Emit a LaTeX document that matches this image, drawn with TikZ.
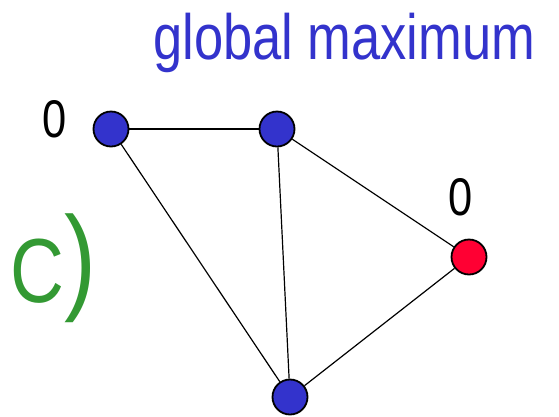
\documentclass[tikz,border=0pt]{standalone}
\usepackage{fontspec}
\setmainfont{Liberation Sans}[FakeStretch=0.82]
\definecolor{nodeblue}{RGB}{51,51,204}
\definecolor{nodered}{RGB}{255,0,51}
\definecolor{labgreen}{RGB}{51,153,51}
\begin{document}
\begin{tikzpicture}[x=1pt,y=-1pt,
  vtx/.style={circle,draw=black,line width=1.8pt,minimum size=35pt,inner sep=0pt},
  edge/.style={draw=black,line width=1.2pt},
  numlab/.style={anchor=base,inner sep=0pt,font=\fontsize{53}{53}\selectfont}]
\useasboundingbox (0,0) rectangle (559,416);
\node[vtx,fill=nodeblue] (a) at (111,129) {};
\node[vtx,fill=nodeblue] (b) at (277,129) {};
\node[vtx,fill=nodered] (r) at (469,257) {};
\node[vtx,fill=nodeblue] (d) at (290,397) {};
\draw[edge] (a) -- (b);
\draw[edge] (a) -- (d);
\draw[edge] (b) -- (d);
\draw[edge] (b) -- (r);
\draw[edge] (r) -- (d);
\node[numlab] (la) at (55,137) {0};
\node[numlab] (lr) at (461,215) {0};
\node[anchor=base west,inner sep=0pt,text=nodeblue,font=\fontsize{64}{64}\selectfont] (t) at (153,59) {global maximum};
\node[anchor=base west,inner sep=0pt,text=labgreen,font=\fontsize{91}{91}\selectfont] (c) at (10,302) {C\raisebox{4pt}{\fontsize{117}{117}\selectfont)}};
\end{tikzpicture}
\end{document}
